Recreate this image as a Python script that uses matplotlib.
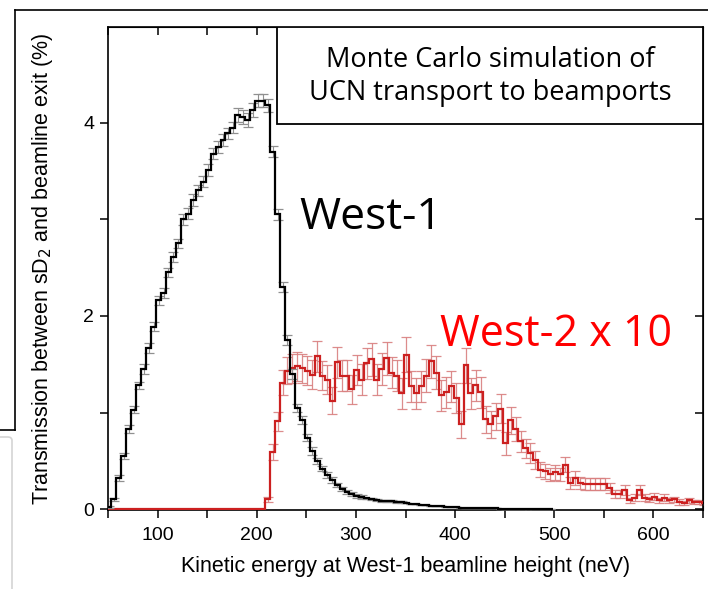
import numpy as np
import matplotlib.pyplot as plt
from matplotlib.patches import Rectangle, FancyBboxPatch
from matplotlib.lines import Line2D
from matplotlib.ticker import MultipleLocator

plt.rcParams['font.family'] = ['Liberation Sans', 'DejaVu Sans']

# histogram bins (neV), 5 neV wide
bin_start = 48.5
bin_width = 5.0

# West-1 transmission (%), one value per bin starting at 48.5 neV
west1 = [0.02, 0.10, 0.32, 0.55, 0.83, 1.03, 1.28, 1.45, 1.67, 1.89,
         2.16, 2.24, 2.45, 2.61, 2.75, 3.00, 3.06, 3.20, 3.30, 3.39,
         3.51, 3.68, 3.75, 3.82, 3.89, 3.95, 4.08, 4.06, 4.03, 4.13,
         4.23, 4.23, 4.18, 3.70, 3.05, 2.30, 1.75, 1.40, 1.05, 0.92,
         0.74, 0.60, 0.50, 0.42, 0.35, 0.30, 0.25, 0.21, 0.18, 0.155,
         0.14, 0.125, 0.11, 0.10, 0.09, 0.08, 0.085, 0.08, 0.075, 0.07,
         0.06, 0.055, 0.05, 0.045, 0.04, 0.035, 0.03, 0.028, 0.025, 0.02,
         0.018, 0.016, 0.014, 0.012, 0.01, 0.01, 0.008, 0.008, 0.007, 0.006,
         0.005, 0.004, 0.004, 0.003, 0.003, 0.003, 0.002, 0.002, 0.002, 0.001]
west1_err = [0.01, 0.02, 0.03, 0.03, 0.04, 0.04, 0.04, 0.05, 0.05, 0.05,
             0.05, 0.05, 0.05, 0.05, 0.05, 0.06, 0.06, 0.06, 0.06, 0.06,
             0.06, 0.06, 0.06, 0.06, 0.06, 0.06, 0.07, 0.07, 0.07, 0.07,
             0.07, 0.07, 0.07, 0.06, 0.06, 0.05, 0.05, 0.05, 0.04, 0.04,
             0.04, 0.04, 0.03, 0.03, 0.03, 0.03, 0.02, 0.02, 0.02, 0.02,
             0.02, 0.02, 0.01, 0.01, 0.01, 0.01, 0.01, 0.01, 0.01, 0.01]

# West-2 transmission x 10 (%), same bins
west2 = [0.0] * 32 + [
    0.10, 0.59, 0.91, 1.31, 1.43, 1.46, 1.48, 1.46, 1.43, 1.39,
    1.58, 1.38, 1.34, 1.12, 1.52, 1.38, 1.38, 1.24, 1.44, 1.34,
    1.51, 1.55, 1.34, 1.45, 1.56, 1.41, 1.38, 1.20, 1.60, 1.27,
    1.20, 1.27, 1.38, 1.53, 1.41, 1.18, 1.21, 1.27, 1.15, 0.88,
    1.49, 1.20, 1.28, 1.21, 0.93, 0.88, 0.96, 1.04, 0.68, 0.92,
    0.83, 0.70, 0.63, 0.58, 0.51, 0.41, 0.39, 0.36, 0.38, 0.36,
    0.46, 0.27, 0.32, 0.27, 0.26, 0.26, 0.26, 0.26, 0.26, 0.22,
    0.16, 0.16, 0.20, 0.09, 0.12, 0.20, 0.12, 0.10, 0.13, 0.09,
    0.12, 0.09, 0.10, 0.07, 0.06, 0.09, 0.07, 0.07, 0.06]
west2_err = [0.0] * 32 + [
    0.03, 0.08, 0.10, 0.13, 0.14, 0.15, 0.15, 0.15, 0.15, 0.15,
    0.16, 0.15, 0.15, 0.14, 0.16, 0.16, 0.16, 0.15, 0.16, 0.16,
    0.16, 0.17, 0.16, 0.17, 0.17, 0.16, 0.16, 0.16, 0.18, 0.16,
    0.16, 0.16, 0.17, 0.17, 0.17, 0.16, 0.16, 0.16, 0.16, 0.14,
    0.18, 0.16, 0.16, 0.16, 0.14, 0.14, 0.14, 0.15, 0.12, 0.14,
    0.12, 0.11, 0.10, 0.10, 0.09, 0.08, 0.08, 0.07, 0.08, 0.07,
    0.08, 0.06, 0.07, 0.06, 0.06, 0.06, 0.06, 0.06, 0.06, 0.05,
    0.04, 0.04, 0.05, 0.03, 0.04, 0.05, 0.04, 0.03, 0.04, 0.03,
    0.04, 0.03, 0.03, 0.03, 0.02, 0.03, 0.02, 0.02, 0.02]

w1 = np.array(west1)
w2 = np.array(west2)
e1 = np.array(west1_err + [0.0] * (len(west1) - len(west1_err)))
e2 = np.array(west2_err)
edges1 = bin_start + bin_width * np.arange(len(w1) + 1)
edges2 = bin_start + bin_width * np.arange(len(w2) + 1)
cen1 = 0.5 * (edges1[:-1] + edges1[1:])
cen2 = 0.5 * (edges2[:-1] + edges2[1:])

fig = plt.figure(figsize=(7.08, 5.89), dpi=100)
ax = fig.add_axes([0.1525, 0.134, 0.8405, 0.820])

# West-2 (red)
m2 = np.arange(len(w2)) >= 32
ax.errorbar(cen2[m2], w2[m2], yerr=e2[m2], fmt='none', ecolor='#d98080',
            elinewidth=0.9, capsize=3.5, capthick=0.9, alpha=0.9, zorder=2)
ax.stairs(w2, edges2, color='#cc2020', lw=1.6, zorder=3)

# West-1 (black)
ax.errorbar(cen1, w1, yerr=e1, fmt='none', ecolor='#909090',
            elinewidth=0.8, capsize=3.5, capthick=0.9, zorder=4)
ax.stairs(w1, edges1, color='black', lw=1.6, zorder=5)

ax.set_xlim(50, 650)
ax.set_ylim(-0.01, 4.99)
ax.xaxis.set_major_locator(MultipleLocator(100))
ax.xaxis.set_minor_locator(MultipleLocator(50))
ax.yaxis.set_major_locator(MultipleLocator(2))
ax.yaxis.set_minor_locator(MultipleLocator(1))
ax.tick_params(which='both', direction='out', length=6, width=1.1,
               labelsize=14, top=False, right=False)
ax.tick_params(axis='x', pad=6)
ax.tick_params(axis='y', pad=4)
sx = ax.secondary_xaxis('top')
sx.xaxis.set_major_locator(MultipleLocator(50))
sx.tick_params(direction='in', length=6, width=1.1, labeltop=False)
sy = ax.secondary_yaxis('right')
sy.yaxis.set_major_locator(MultipleLocator(1))
sy.tick_params(direction='in', length=6, width=1.1, labelright=False)
for s in ax.spines.values():
    s.set_linewidth(1.2)

ax.set_xlabel('Kinetic energy at West-1 beamline height (neV)', fontsize=15.5,
              labelpad=9)
ax.set_ylabel('Transmission between sD$_2$ and beamline exit (%)', fontsize=15.5,
              labelpad=20)

# annotation box
ax.add_patch(Rectangle((0.284, 0.799), 0.716, 0.201, transform=ax.transAxes,
                       facecolor='white', edgecolor='black', lw=1.3, zorder=10))
ax.text(0.642, 0.898, 'Monte Carlo simulation of\nUCN transport to beamports',
        transform=ax.transAxes, ha='center', va='center', fontsize=19.5,
        family=['Open Sans', 'DejaVu Sans'], linespacing=1.25, zorder=11)
ax.text(0.321, 0.605, 'West-1', transform=ax.transAxes, ha='left', va='center',
        fontsize=32, family=['Open Sans', 'DejaVu Sans'], zorder=11)
ax.text(0.558, 0.362, 'West-2 x 10', transform=ax.transAxes, ha='left',
        va='center', fontsize=31, color='#ff0000',
        family=['Open Sans', 'DejaVu Sans'], zorder=11)

# surrounding frame of the slide
fig.add_artist(Line2D([15 / 708, 15 / 708], [1 - 10 / 589, 1 - 430 / 589],
                      color='black', lw=1.2, transform=fig.transFigure))
fig.add_artist(Line2D([15 / 708, 1.0], [1 - 10 / 589, 1 - 10 / 589],
                      color='black', lw=1.2, transform=fig.transFigure))
fig.add_artist(Line2D([0, 15 / 708], [1 - 430 / 589, 1 - 430 / 589],
                      color='black', lw=1.2, transform=fig.transFigure))
fig.add_artist(FancyBboxPatch((-8 / 708, -10 / 589), 20 / 708,
                              (589 - 437 + 10) / 589,
                              boxstyle='round,pad=0,rounding_size=0.006',
                              transform=fig.transFigure, facecolor='none',
                              edgecolor='#d4d4d4', lw=1.2))

fig.savefig('out.png', dpi=100)
